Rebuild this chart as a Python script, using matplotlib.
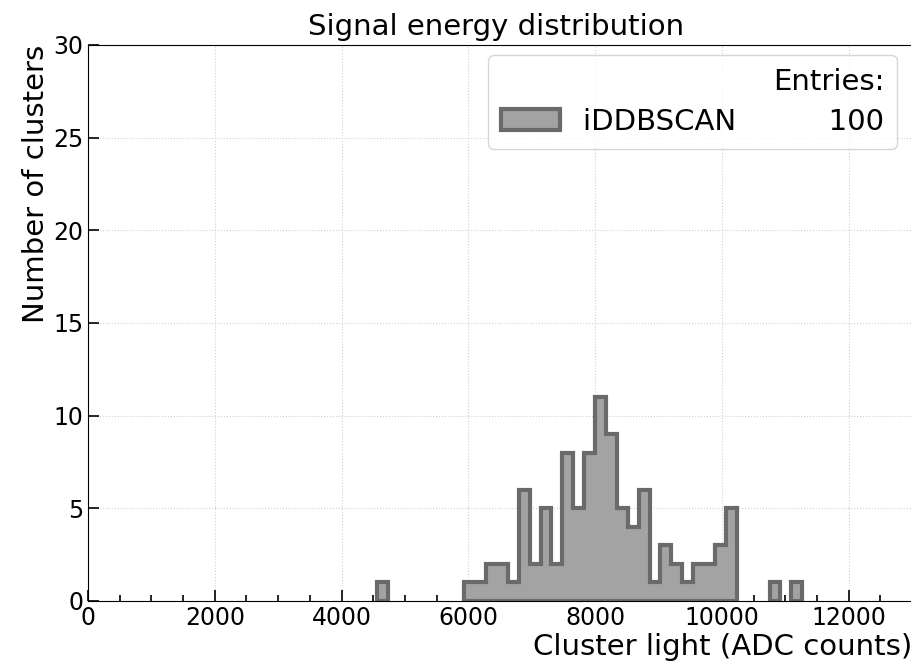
import matplotlib.pyplot as plt
import numpy as np

# histogram data (bin edges ~172 ADC wide)
bin_start = 4560
bin_width = 172
counts = [1, 0, 0, 0, 0, 0, 0, 0,
          1, 1, 2, 2, 1, 6, 2, 5, 2, 8, 5, 8, 11, 9, 5, 4, 6, 1, 3, 2, 1, 2, 2, 3, 5,
          0, 0, 0, 1, 0, 1]
label = 'iDDBSCAN'
n_entries = 100

counts = np.array(counts)
edges = bin_start + bin_width * np.arange(len(counts) + 1)
centers = 0.5 * (edges[:-1] + edges[1:])

fig = plt.figure(figsize=(9.12, 6.68), dpi=100)
ax = fig.add_axes([88 / 912, 67 / 668, 824 / 912, 556 / 668])

# draw each run of non-empty bins separately so empty bins get no outline
nz = counts > 0
runs = []
i = 0
while i < len(counts):
    if nz[i]:
        j = i
        while j < len(counts) and nz[j]:
            j += 1
        runs.append((i, j))
        i = j
    else:
        i += 1

for k, (a, b) in enumerate(runs):
    ax.hist(centers[a:b], bins=edges[a:b + 1], weights=counts[a:b],
            histtype='stepfilled', facecolor='#a3a3a3', edgecolor='#6a6a6a',
            linewidth=3,
            label=f'{label}          {n_entries}' if k == 0 else None)

ax.set_xlim(0, 13000)
ax.set_ylim(0, 30)
ax.set_xticks(np.arange(0, 13000, 2000))
ax.set_xticks(np.arange(0, 13000, 500), minor=True)
ax.set_yticks(np.arange(0, 31, 5))
ax.tick_params(direction='in', labelsize=17, length=8, width=1.2)
ax.tick_params(which='minor', direction='in', length=4, width=1.2)
ax.grid(True, linestyle=':', color='#d0d0d0', linewidth=0.8)
ax.set_axisbelow(True)

ax.set_title('Signal energy distribution', fontsize=21, pad=7, x=0.495)
ax.set_xlabel('Cluster light (ADC counts)', fontsize=21, loc='right', labelpad=2)
ax.set_ylabel('Number of clusters', fontsize=21, loc='top', labelpad=2)

leg = ax.legend(loc='upper right', fontsize=21, title='Entries:',
                title_fontsize=21, alignment='right', handlelength=2.0,
                borderpad=0.45, labelspacing=0.4, borderaxespad=0,
                bbox_to_anchor=(0.982, 0.982))

plt.savefig('out.png', dpi=100)
